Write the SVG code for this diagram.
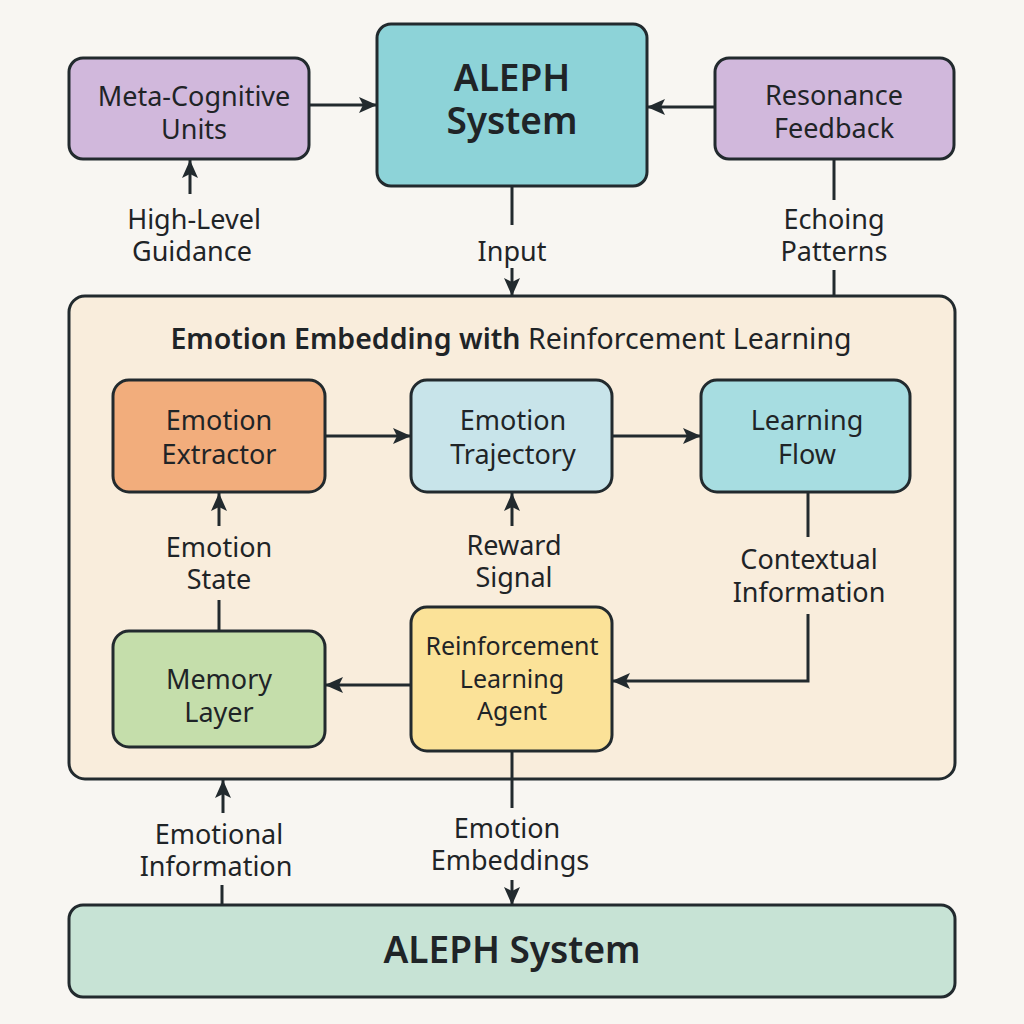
<svg xmlns="http://www.w3.org/2000/svg" width="1024" height="1024" viewBox="0 0 1024 1024">
<defs>
<marker id="ah" viewBox="0 0 18 16" refX="18" refY="8" markerWidth="18" markerHeight="16" orient="auto" markerUnits="userSpaceOnUse">
<path d="M0,0 L18,8 L0,16 L4,8 Z" fill="#222a2e"/>
</marker>
<style>
.box{stroke:#222a2e;stroke-width:3}
.t{font-family:"Noto Sans","Open Sans",sans-serif;font-size:27px;fill:#1f2427;text-anchor:middle}
.big{font-size:37px;font-weight:600}
.title{font-size:28.5px}
.sm{font-size:25px}
.c{stroke:#222a2e;stroke-width:3;fill:none}
.ca{stroke:#222a2e;stroke-width:3;fill:none;marker-end:url(#ah)}
</style>
</defs>
<rect width="1024" height="1024" fill="#f8f6f2"/>

<g id="container">
<rect class="box" x="69" y="296" width="886" height="483" rx="16" fill="#f9eddc"/>
<text class="t title" x="511" y="349"><tspan font-weight="600">Emotion Embedding with</tspan> Reinforcement Learning</text>
</g>

<g id="meta">
<rect class="box" x="69" y="58" width="240" height="101" rx="14" fill="#d1b8dc"/>
<text class="t" x="194" y="106">Meta-Cognitive</text>
<text class="t" x="194" y="139">Units</text>
</g>
<g id="aleph-top">
<rect class="box" x="377" y="24" width="270" height="162" rx="14" fill="#8dd3d8"/>
<text class="t big" x="512" y="91">ALEPH</text>
<text class="t big" x="512" y="134">System</text>
</g>
<g id="resonance">
<rect class="box" x="715" y="58" width="239" height="101" rx="14" fill="#d1b8dc"/>
<text class="t" x="834" y="105">Resonance</text>
<text class="t" x="834" y="138">Feedback</text>
</g>

<g id="extractor">
<rect class="box" x="113" y="380" width="212" height="112" rx="16" fill="#f2ad7c"/>
<text class="t" x="219" y="430">Emotion</text>
<text class="t" x="219" y="464">Extractor</text>
</g>
<g id="trajectory">
<rect class="box" x="411" y="380" width="201" height="112" rx="16" fill="#c8e4ea"/>
<text class="t" x="513" y="430">Emotion</text>
<text class="t" x="513" y="464">Trajectory</text>
</g>
<g id="learning">
<rect class="box" x="701" y="380" width="209" height="112" rx="16" fill="#a7dde1"/>
<text class="t" x="807" y="430">Learning</text>
<text class="t" x="807" y="464">Flow</text>
</g>
<g id="memory">
<rect class="box" x="113" y="631" width="212" height="116" rx="16" fill="#c5deab"/>
<text class="t" x="219" y="689">Memory</text>
<text class="t" x="219" y="722">Layer</text>
</g>
<g id="agent">
<rect class="box" x="411" y="607" width="201" height="144" rx="16" fill="#fbe298"/>
<text class="t sm" x="512" y="655">Reinforcement</text>
<text class="t sm" x="512" y="688">Learning</text>
<text class="t sm" x="512" y="720">Agent</text>
</g>
<g id="aleph-bottom">
<rect class="box" x="69" y="905" width="886" height="92" rx="14" fill="#c7e3d5"/>
<text class="t big" x="512" y="963">ALEPH System</text>
</g>

<g id="connectors">
<line class="ca" x1="309" y1="105" x2="377" y2="105"/>
<line class="ca" x1="715" y1="107" x2="647" y2="107"/>
<line class="ca" x1="190" y1="194" x2="190" y2="160"/>
<text class="t" x="194" y="229">High-Level</text>
<text class="t" x="192" y="261">Guidance</text>
<line class="c" x1="512" y1="186" x2="512" y2="225"/>
<text class="t" x="512" y="261">Input</text>
<line class="ca" x1="512" y1="268" x2="512" y2="296"/>
<line class="c" x1="834" y1="159" x2="834" y2="200"/>
<text class="t" x="834" y="229">Echoing</text>
<text class="t" x="834" y="261">Patterns</text>
<line class="c" x1="834" y1="270" x2="834" y2="296"/>

<line class="ca" x1="325" y1="436" x2="411" y2="436"/>
<line class="ca" x1="612" y1="436" x2="701" y2="436"/>
<line class="ca" x1="219" y1="526" x2="219" y2="493"/>
<text class="t" x="219" y="557">Emotion</text>
<text class="t" x="219" y="589">State</text>
<line class="c" x1="219" y1="600" x2="219" y2="631"/>
<line class="ca" x1="512" y1="526" x2="512" y2="493"/>
<text class="t" x="514" y="555">Reward</text>
<text class="t" x="514" y="587">Signal</text>
<line class="c" x1="808" y1="492" x2="808" y2="537"/>
<text class="t" x="809" y="569">Contextual</text>
<text class="t" x="809" y="602">Information</text>
<polyline class="ca" points="808,614 808,681 612,681"/>
<line class="ca" x1="411" y1="685" x2="325" y2="685"/>
<line class="c" x1="512" y1="751" x2="512" y2="808"/>
<text class="t" x="507" y="838">Emotion</text>
<text class="t" x="510" y="870">Embeddings</text>
<line class="ca" x1="512" y1="880" x2="512" y2="905"/>
<line class="ca" x1="223" y1="813" x2="223" y2="780"/>
<text class="t" x="219" y="844">Emotional</text>
<text class="t" x="216" y="876">Information</text>
<line class="c" x1="222" y1="885" x2="222" y2="905"/>
</g>
</svg>
